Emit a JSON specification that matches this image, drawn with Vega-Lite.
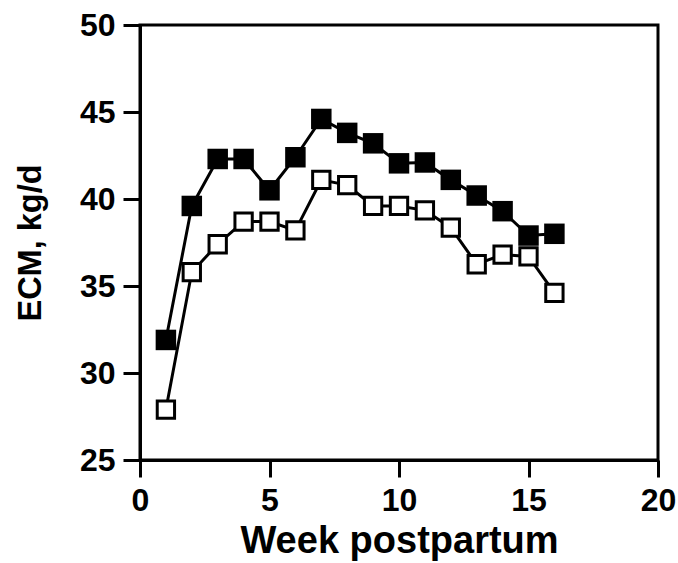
{
  "$schema": "https://vega.github.io/schema/vega-lite/v6.json",
  "width": 518,
  "height": 435,
  "autosize": {"type": "none"},
  "padding": {"left": 140, "top": 25, "right": 20, "bottom": 103},
  "background": "white",
  "config": {
    "view": {"stroke": "black", "strokeWidth": 3},
    "axis": {
      "domainColor": "black",
      "domainWidth": 3,
      "tickColor": "black",
      "tickWidth": 3,
      "tickSize": 17,
      "grid": false,
      "labelFont": "Liberation Sans",
      "labelFontWeight": "bold",
      "labelFontSize": 32,
      "labelColor": "black",
      "titleFont": "Liberation Sans",
      "titleFontWeight": "bold",
      "titleColor": "black"
    }
  },
  "data": {
    "values": [
      {"week": 1, "ecm": 31.9, "group": "filled"},
      {"week": 2, "ecm": 39.6, "group": "filled"},
      {"week": 3, "ecm": 42.3, "group": "filled"},
      {"week": 4, "ecm": 42.3, "group": "filled"},
      {"week": 5, "ecm": 40.5, "group": "filled"},
      {"week": 6, "ecm": 42.4, "group": "filled"},
      {"week": 7, "ecm": 44.6, "group": "filled"},
      {"week": 8, "ecm": 43.8, "group": "filled"},
      {"week": 9, "ecm": 43.2, "group": "filled"},
      {"week": 10, "ecm": 42.05, "group": "filled"},
      {"week": 11, "ecm": 42.1, "group": "filled"},
      {"week": 12, "ecm": 41.1, "group": "filled"},
      {"week": 13, "ecm": 40.2, "group": "filled"},
      {"week": 14, "ecm": 39.3, "group": "filled"},
      {"week": 15, "ecm": 37.9, "group": "filled"},
      {"week": 16, "ecm": 38.0, "group": "filled"},
      {"week": 1, "ecm": 27.9, "group": "open"},
      {"week": 2, "ecm": 35.8, "group": "open"},
      {"week": 3, "ecm": 37.4, "group": "open"},
      {"week": 4, "ecm": 38.7, "group": "open"},
      {"week": 5, "ecm": 38.7, "group": "open"},
      {"week": 6, "ecm": 38.2, "group": "open"},
      {"week": 7, "ecm": 41.1, "group": "open"},
      {"week": 8, "ecm": 40.8, "group": "open"},
      {"week": 9, "ecm": 39.6, "group": "open"},
      {"week": 10, "ecm": 39.6, "group": "open"},
      {"week": 11, "ecm": 39.35, "group": "open"},
      {"week": 12, "ecm": 38.35, "group": "open"},
      {"week": 13, "ecm": 36.25, "group": "open"},
      {"week": 14, "ecm": 36.8, "group": "open"},
      {"week": 15, "ecm": 36.7, "group": "open"},
      {"week": 16, "ecm": 34.6, "group": "open"}
    ]
  },
  "encoding": {
    "x": {
      "field": "week", "type": "quantitative",
      "scale": {"domain": [0, 20], "nice": false, "zero": false},
      "axis": {"values": [0, 5, 10, 15, 20], "title": "Week postpartum", "titleFontSize": 38, "titlePadding": 6, "labelPadding": 8, "labelFlush": false}
    },
    "y": {
      "field": "ecm", "type": "quantitative",
      "scale": {"domain": [25, 50], "nice": false, "zero": false},
      "axis": {"values": [25, 30, 35, 40, 45, 50], "title": "ECM, kg/d", "titleFontSize": 32.5, "titlePadding": 32, "labelPadding": 8}
    }
  },
  "layer": [
    {
      "mark": {"type": "line", "color": "black", "strokeWidth": 3},
      "encoding": {"detail": {"field": "group"}}
    },
    {
      "transform": [{"filter": "datum.group === 'filled'"}],
      "mark": {"type": "point", "shape": "square", "filled": true, "fill": "black", "opacity": 1, "size": 420, "strokeWidth": 0}
    },
    {
      "transform": [{"filter": "datum.group === 'open'"}],
      "mark": {"type": "point", "shape": "square", "filled": false, "fill": "white", "fillOpacity": 1, "stroke": "black", "strokeWidth": 3, "opacity": 1, "size": 300}
    }
  ]
}
